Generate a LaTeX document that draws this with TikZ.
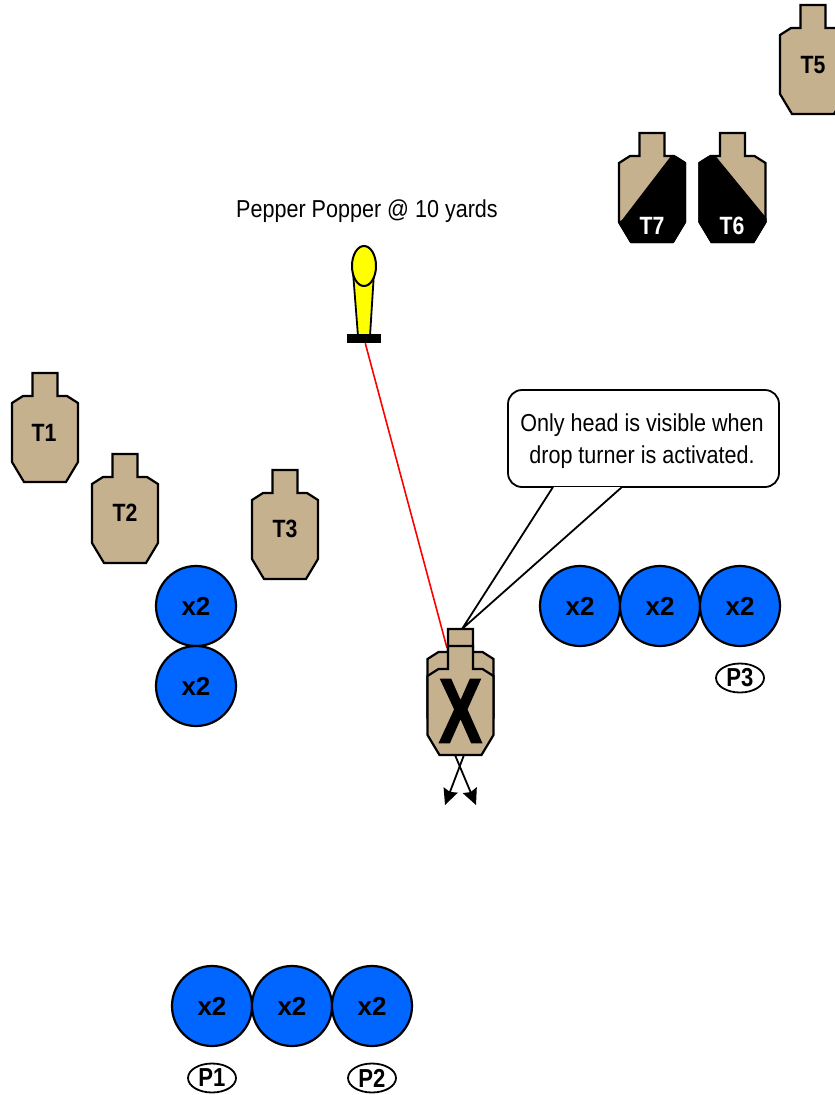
\documentclass[tikz,border=0pt]{standalone}
\usepackage{fontspec}
\setmainfont{Liberation Sans}
\newfontfamily\labelfont[FakeStretch=0.85]{Liberation Sans}
\newfontfamily\notefont[FakeStretch=0.88]{Liberation Sans}
\newfontfamily\crossfont[FakeStretch=0.7,FakeBold=1.6]{Liberation Sans}
\usetikzlibrary{arrows.meta,shapes.geometric}
\definecolor{targettan}{HTML}{C6B18F}
\definecolor{chipblue}{RGB}{0,102,255}
\definecolor{popperyellow}{RGB}{255,255,0}
\newcommand{\targetpath}{(-12.5,0) -- (12.5,0) -- (12.5,23) -- (22,23) -- (33,30) -- (33,89) -- (21,109) -- (-21,109) -- (-33,89) -- (-33,30) -- (-22,23) -- (-12.5,23) -- cycle}

\begin{document}
\begin{tikzpicture}[
  x=1pt, y=-1pt,
  target/.pic={\draw[line width=2.2pt, line join=miter, fill=targettan] \targetpath;},
  targetlabel/.style={font=\labelfont\bfseries\fontsize{25}{25}\selectfont, inner sep=0pt},
  chip/.style={circle, draw, line width=2.2pt, fill=chipblue, minimum size=80pt, inner sep=0pt, font=\bfseries\fontsize{26}{26}\selectfont},
  stationmark/.style={ellipse, draw, line width=1.8pt, minimum width=48pt, minimum height=29pt, inner sep=0pt, font=\labelfont\bfseries\fontsize{26}{26}\selectfont},
  note/.style={font=\notefont\fontsize{24.5}{32}\selectfont, align=center, inner sep=0pt},
  arr/.style={-{Stealth[inset=2pt, length=16pt, width=15pt]}, line width=1.8pt}
]
\useasboundingbox (0,0) rectangle (835,1095);

% Popper
\node[note] (popperlabel) at (367,211) {Pepper Popper @ 10 yards};
\coordinate (stemL) at (353,272);
\coordinate (stemR) at (374,272);
\coordinate (stemBR) at (370,336);
\coordinate (stemBL) at (358,336);
\draw[line width=1.8pt, fill=popperyellow] (stemL) -- (stemBL) -- (stemBR) -- (stemR);
\node[ellipse, draw, line width=2pt, fill=popperyellow, minimum width=24pt, minimum height=40pt, inner sep=0pt] (popperhead) at (364,266) {};
\node[rectangle, fill=black, minimum width=34pt, minimum height=9pt, inner sep=0pt] (popperbase) at (364,338.5) {};

% Open targets
\pic (t1) at (45,373) {target};
\node[targetlabel] (labelT1) at (44,433) {T1};
\pic (t2) at (125,454) {target};
\node[targetlabel] (labelT2) at (125,513) {T2};
\pic (t3) at (285,470) {target};
\node[targetlabel] (labelT3) at (285,529) {T3};
\pic (t5) at (813,5) {target};
\node[targetlabel] (labelT5) at (813,65) {T5};

% Partial targets
\pic (t7) at (652,133) {target};
\begin{scope}[shift={(652,133)}]
  \clip (19,23) -- (40,23) -- (40,116) -- (-40,116) -- (-40,92) -- (-30,87) -- cycle;
  \fill[black, draw=black, line width=2.2pt] \targetpath;
\end{scope}
\node[targetlabel, text=white] (labelT7) at (652,226) {T7};
\pic (t6) at (732.5,133) {target};
\begin{scope}[shift={(732.5,133)}]
  \clip (-17,23) -- (-40,23) -- (-40,116) -- (40,116) -- (40,92) -- (33,84) -- cycle;
  \fill[black, draw=black, line width=2.2pt] \targetpath;
\end{scope}
\node[targetlabel, text=white] (labelT6) at (732,226) {T6};

% Chips
\node[chip] (chipA) at (196,606) {x2};
\node[chip] (chipB) at (196,686) {x2};
\node[chip] (chipC) at (580,606) {x2};
\node[chip] (chipD) at (660,606) {x2};
\node[chip] (chipE) at (740,606) {x2};
\node[chip] (chipF) at (212,1006) {x2};
\node[chip] (chipG) at (292,1006) {x2};
\node[chip] (chipH) at (372,1006) {x2};

% Stations
\node[stationmark] (stationP1) at (212,1078) {P1};
\node[stationmark] (stationP2) at (372,1078) {P2};
\node[stationmark] (stationP3) at (740,678) {P3};

% Callout
\node[rectangle, draw, rounded corners=14pt, line width=1.8pt, fill=white, minimum width=271pt, minimum height=97pt] (callout) at (643.5,438.5) {};
\node[note] (callouttext) at (642,441) {Only head is visible when\\drop turner is activated.};
\coordinate (tailL) at (553,487);
\coordinate (tailR) at (622,487);
\coordinate (tailtip) at (462,629);
\draw[line width=1.8pt, fill=white] (tailL) -- (tailtip) -- (tailR);

% Drop turner
\coordinate (redend) at (447,648);
\draw[red, line width=1.6pt] (popperbase) -- (redend);
\coordinate (arrowstartA) at (455,755);
\coordinate (arrowendA) at (476,805);
\coordinate (arrowstartB) at (464,755);
\coordinate (arrowendB) at (445,805);
\draw[arr] (arrowstartA) -- (arrowendA);
\draw[arr] (arrowstartB) -- (arrowendB);
\pic (turnerback) at (460.5,629) {target};
\pic (turnerfront) at (460.5,646) {target};
\node[font=\crossfont\bfseries\fontsize{92}{92}\selectfont, inner sep=0pt] (cross) at (460.5,711) {X};

\end{tikzpicture}
\end{document}
